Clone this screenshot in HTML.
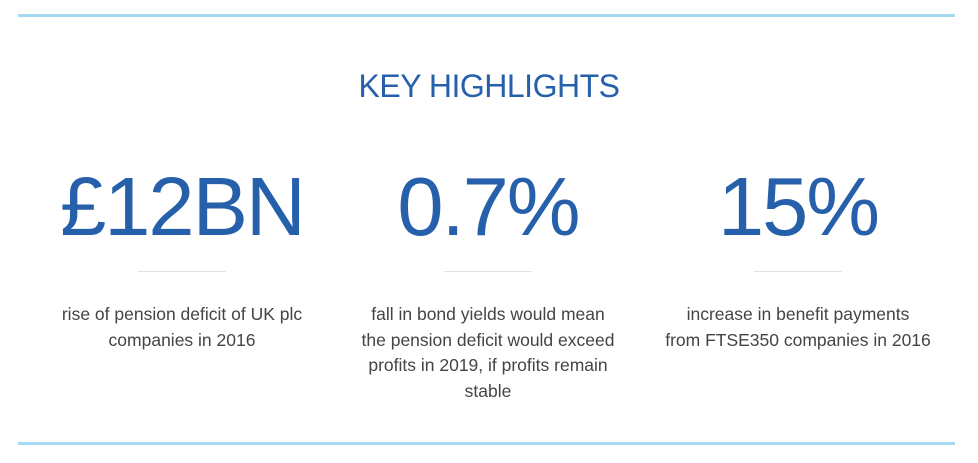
<!DOCTYPE html>
<html><head><meta charset="utf-8">
<style>
html,body{margin:0;padding:0;background:#fff;width:978px;height:463px;overflow:hidden;font-family:"Liberation Sans",sans-serif}
.line{position:absolute;left:18px;width:937px;height:3px;background:#a5d8f3}
.title{position:absolute;top:68px;left:0;width:978px;text-align:center;color:#2660aa;font-size:32px;letter-spacing:-0.5px}
.col{position:absolute;text-align:center;width:300px}
.num{position:absolute;top:152px;width:300px;text-align:center;color:#2660aa;font-size:83px;letter-spacing:-2px;line-height:110px}
.div{position:absolute;top:271px;left:106px;width:88px;height:1px;background:#e2e2e2}
.txt{position:absolute;top:302px;left:-20px;width:340px;text-align:center;color:#444;font-size:17.5px;line-height:25.5px}
</style></head><body>
<div class="line" style="top:14px"></div>
<div class="title">KEY HIGHLIGHTS</div>

<div class="col" style="left:32px;top:0">
<div class="num">£12BN</div>
<div class="div"></div>
<div class="txt">rise of pension deficit of UK plc<br>companies in 2016</div>
</div>

<div class="col" style="left:338px;top:0">
<div class="num">0.7%</div>
<div class="div"></div>
<div class="txt">fall in bond yields would mean<br>the pension deficit would exceed<br>profits in 2019, if profits remain<br>stable</div>
</div>

<div class="col" style="left:648px;top:0">
<div class="num">15%</div>
<div class="div"></div>
<div class="txt">increase in benefit payments<br>from FTSE350 companies in 2016</div>
</div>

<div class="line" style="top:442px"></div>
</body></html>
